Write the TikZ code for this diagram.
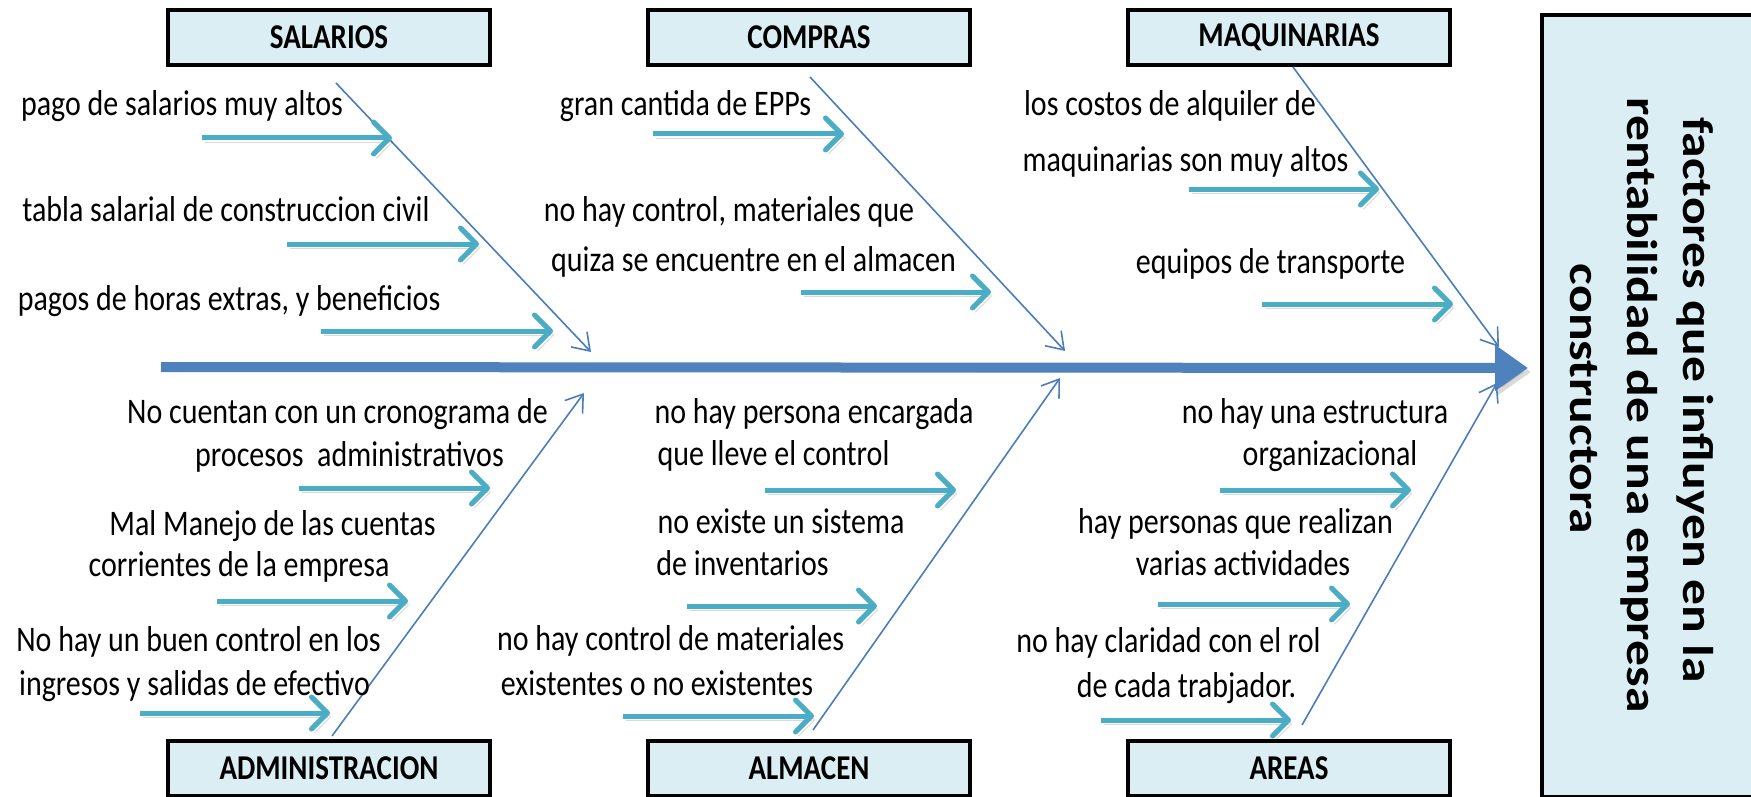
\documentclass[tikz,border=0pt]{standalone}
\usepackage{fontspec}
\setmainfont{Carlito}
\usetikzlibrary{arrows.meta}
\definecolor{causec}{HTML}{4BACC6}
\definecolor{spinec}{HTML}{4F81BD}
\definecolor{bonec}{HTML}{4A7EBB}
\definecolor{boxfill}{HTML}{DBEEF4}
\newcommand{\tallt}[1]{\scalebox{1}[1.2]{#1}}
\newcommand{\longt}[1]{\scalebox{1.2}[1]{#1}}
\begin{document}
\begin{tikzpicture}[x=0.5pt,y=-0.5pt,
  catbox/.style={draw=black, line width=2pt, fill=boxfill, minimum width=161pt, minimum height=27.5pt, inner sep=0pt, font=\fontsize{14.5}{17}\selectfont\bfseries},
  txt/.style={anchor=base, inner sep=0pt, font=\fontsize{15}{18}\selectfont},
  maintxt/.style={anchor=base, inner sep=0pt, rotate=-90, font=\fontsize{21.5}{26}\selectfont\bfseries},
  softshadow/.style={preaction={draw=black, opacity=0.15, transform canvas={shift={(1.5pt,-2pt)}}}},
  cause/.style={draw=causec, line width=2.5pt, -{Straight Barb[length=8pt,width=16pt,round]}, softshadow},
  bone/.style={draw=bonec, line width=0.8pt, -{Straight Barb[length=8pt,width=11pt]}},
  spine/.style={draw=spinec, line width=5pt, -{Triangle[length=16.5pt,width=22pt]}, softshadow}
]
\useasboundingbox (0,0) rectangle (1751,797);
\begin{scope}
\clip (0,0) rectangle (1751,797);
% main effect box
\node[draw=black, line width=2.2pt, fill=boxfill, minimum width=125pt, minimum height=391pt, anchor=north west, inner sep=0pt] (eff) at (1540,13) {};
\end{scope}
\node[maintxt] (m1) at (1683,400) {\longt{factores que influyen en la}};
\node[maintxt] (m2) at (1627,405) {\longt{rentabilidad de una empresa}};
\node[maintxt] (m3) at (1570,399) {\longt{constructora}};

% category boxes
\node[catbox] (sal) at (329,37.5) {\tallt{SALARIOS}};
\node[catbox] (com) at (809,37.5) {\tallt{COMPRAS}};
\node[catbox] (maq) at (1289,37.5) {\tallt{MAQUINARIAS}};
\node[catbox] (adm) at (329,768.5) {\tallt{ADMINISTRACION}};
\node[catbox] (alm) at (809,768.5) {\tallt{ALMACEN}};
\node[catbox] (are) at (1289,768.5) {\tallt{AREAS}};

% spine
\coordinate (sp0) at (161,367);
\coordinate (sp1) at (1528,368);
\draw[spine] (sp0) -- (sp1);

% bones
\coordinate (b1) at (336,83);   \coordinate (t1) at (591,352);
\coordinate (b2) at (810,77);   \coordinate (t2) at (1065,351);
\coordinate (b3) at (1293,67);  \coordinate (t3) at (1499,347);
\coordinate (b4) at (332,736);  \coordinate (t4) at (584,393);
\coordinate (b5) at (813,730);  \coordinate (t5) at (1060,378);
\coordinate (b6) at (1302,725); \coordinate (t6) at (1497,383);
\draw[bone] (b1) -- (t1);
\draw[bone] (b2) -- (t2);
\draw[bone] (b3) -- (t3);
\draw[bone] (b4) -- (t4);
\draw[bone] (b5) -- (t5);
\draw[bone] (b6) -- (t6);

% cause arrows
\draw[cause] (202,138) coordinate (s1a) -- (392,138) coordinate (s1b);
\draw[cause] (287,244) coordinate (s2a) -- (479,244) coordinate (s2b);
\draw[cause] (321,331) coordinate (s3a) -- (553,331) coordinate (s3b);
\draw[cause] (653,134) coordinate (c1a) -- (844,134) coordinate (c1b);
\draw[cause] (801,292) coordinate (c2a) -- (991,292) coordinate (c2b);
\draw[cause] (1189,189) coordinate (q1a) -- (1379,189) coordinate (q1b);
\draw[cause] (1262,304) coordinate (q2a) -- (1453,304) coordinate (q2b);
\draw[cause] (299,488) coordinate (a1a) -- (490,488) coordinate (a1b);
\draw[cause] (217,601) coordinate (a2a) -- (408,601) coordinate (a2b);
\draw[cause] (140,713) coordinate (a3a) -- (330,713) coordinate (a3b);
\draw[cause] (765,490) coordinate (l1a) -- (956,490) coordinate (l1b);
\draw[cause] (687,606) coordinate (l2a) -- (877,606) coordinate (l2b);
\draw[cause] (623,716) coordinate (l3a) -- (814,716) coordinate (l3b);
\draw[cause] (1220,490) coordinate (r1a) -- (1411,490) coordinate (r1b);
\draw[cause] (1158,604) coordinate (r2a) -- (1350,604) coordinate (r2b);
\draw[cause] (1101,720) coordinate (r3a) -- (1291,720) coordinate (r3b);

% texts
\node[txt] (ts1) at (182,116) {\tallt{pago de salarios muy altos}};
\node[txt] (ts2) at (226,221) {\tallt{tabla salarial de construccion civil}};
\node[txt] (ts3) at (229,310) {\tallt{pagos de horas extras, y beneficios}};
\node[txt] (tc1) at (685.5,116) {\tallt{gran cantida de EPPs}};
\node[txt] (tc2a) at (729,221) {\tallt{no hay control, materiales que}};
\node[txt] (tc2b) at (753.5,271) {\tallt{quiza se encuentre en el almacen}};
\node[txt] (tq1a) at (1170,116) {\tallt{los costos de alquiler de}};
\node[txt] (tq1b) at (1185.5,171) {\tallt{maquinarias son muy altos}};
\node[txt] (tq2) at (1270.5,273) {\tallt{equipos de transporte}};
\node[txt] (ta1a) at (337.5,423) {\tallt{No cuentan con un cronograma de}};
\node[txt] (ta1b) at (349.5,466) {\tallt{procesos\ \ administrativos}};
\node[txt] (ta2a) at (272.5,535) {\tallt{Mal Manejo de las cuentas}};
\node[txt] (ta2b) at (239,576) {\tallt{corrientes de la empresa}};
\node[txt] (ta3a) at (198.5,651) {\tallt{No hay un buen control en los}};
\node[txt] (ta3b) at (194.5,695) {\tallt{ingresos y salidas de efectivo}};
\node[txt] (tl1a) at (814,423) {\tallt{no hay persona encargada}};
\node[txt] (tl1b) at (773.5,465) {\tallt{que lleve el control}};
\node[txt] (tl2a) at (781,533) {\tallt{no existe un sistema}};
\node[txt] (tl2b) at (742.5,575) {\tallt{de inventarios}};
\node[txt] (tl3a) at (670.5,650) {\tallt{no hay control de materiales}};
\node[txt] (tl3b) at (657,695) {\tallt{existentes o no existentes}};
\node[txt] (tr1a) at (1315,423) {\tallt{no hay una estructura}};
\node[txt] (tr1b) at (1330,465) {\tallt{organizacional}};
\node[txt] (tr2a) at (1235.5,533) {\tallt{hay personas que realizan}};
\node[txt] (tr2b) at (1243,575) {\tallt{varias actividades}};
\node[txt] (tr3a) at (1168.5,652) {\tallt{no hay claridad con el rol}};
\node[txt] (tr3b) at (1186.5,697) {\tallt{de cada trabjador.}};
\end{tikzpicture}
\end{document}
